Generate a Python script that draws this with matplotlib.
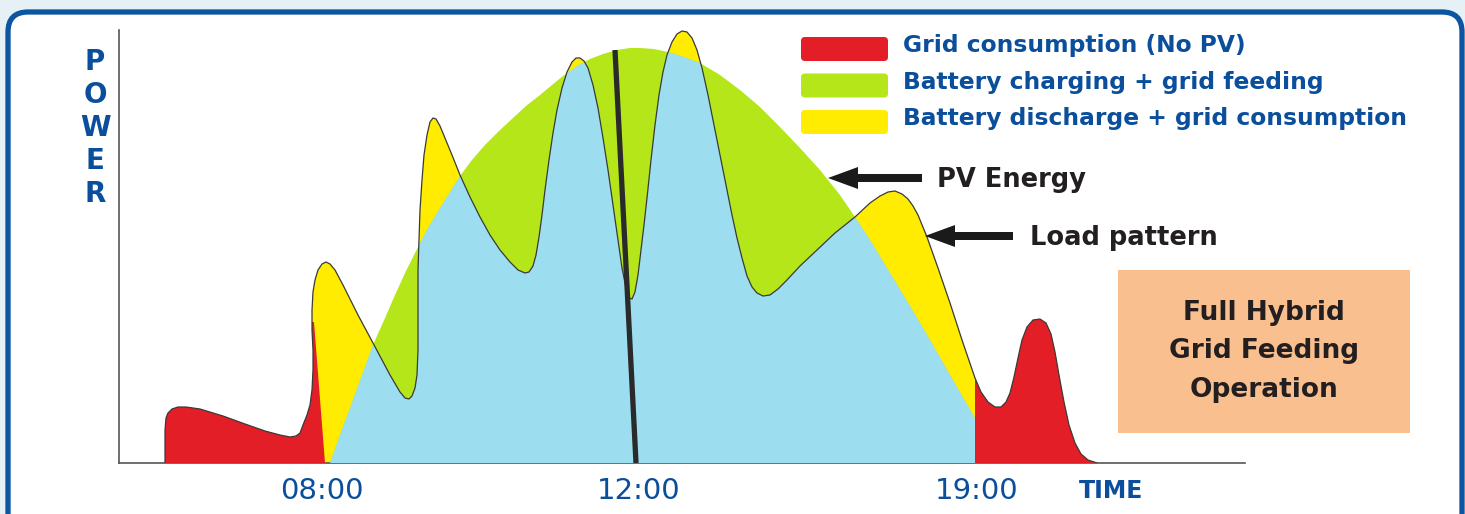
import matplotlib.pyplot as plt
from matplotlib.patches import FancyBboxPatch, Rectangle, Polygon

# chart frame: x = position along the time axis, y = power (arbitrary units)
load_x = [46, 46, 47, 49, 53, 59, 67, 81, 104, 126, 146, 161, 171, 177, 181, 184, 188, 191,
          193, 194, 194, 193, 193, 194, 196, 199, 203, 207, 211, 216, 224, 239, 254, 271,
          281, 286, 290, 293, 296, 298, 299, 299, 299, 299, 300, 301, 303, 305, 308, 311,
          314, 317, 321, 326, 333, 341, 351, 361, 371, 381, 391, 399, 406, 410, 414, 417,
          420, 423, 426, 430, 434, 438, 443, 448, 453, 457, 461, 465, 469, 474, 479, 484,
          489, 494, 499, 503, 507, 510, 513, 516, 519, 522, 525, 528, 532, 536, 540, 544,
          548, 553, 558, 563, 568, 573, 578, 583, 589, 595, 601, 607, 613, 618, 623, 628,
          633, 638, 644, 651, 659, 668, 681, 698, 716, 736, 751, 761, 769, 776, 783, 789,
          794, 799, 808, 819, 831, 843, 856, 862, 869, 876, 882, 887, 891, 895, 899, 903,
          908, 914, 921, 927, 932, 936, 940, 945, 950, 956, 962, 969, 978]
load_y = [0, 33, 45, 50, 54, 56, 56, 54, 47, 39, 32, 28, 26, 27, 30, 38, 48, 58,
          73, 93, 113, 133, 153, 171, 183, 193, 199, 201, 199, 193, 178, 148, 120, 88,
          71, 65, 64, 67, 75, 88, 113, 133, 163, 193, 223, 253, 283, 308, 328, 341,
          345, 344, 337, 325, 308, 288, 266, 246, 228, 213, 201, 193, 190, 191, 197, 208,
          226, 248, 273, 303, 330, 353, 375, 391, 401, 405, 405, 402, 395, 378, 355, 325,
          293, 258, 223, 195, 175, 165, 164, 171, 188, 213, 238, 265, 303, 338, 368, 391,
          408, 421, 429, 432, 431, 425, 413, 395, 368, 338, 308, 278, 248, 225, 205, 187,
          176, 170, 167, 168, 174, 183, 197, 213, 230, 246, 260, 267, 271, 272, 269, 264,
          257, 248, 226, 195, 160, 123, 85, 71, 61, 56, 56, 61, 70, 86, 105, 123,
          136, 143, 144, 140, 129, 111, 88, 61, 38, 20, 9, 3, 0]

pv_x = [211, 221, 231, 243, 254, 266, 276, 287, 298, 309, 321, 331, 341, 353, 366, 380,
        394, 407, 421, 433, 444, 458, 471, 484, 498, 511, 521, 535, 549, 565, 581, 601,
        621, 641, 661, 681, 701, 721, 736, 751, 771, 791, 811, 831, 846, 856, 856]
pv_y = [0, 28, 55, 88, 118, 145, 168, 192, 214, 235, 255, 271, 287, 303, 318, 332,
        345, 357, 368, 378, 387, 397, 404, 409, 413, 415, 415, 414, 411, 406, 400, 388,
        373, 356, 336, 315, 293, 268, 246, 223, 190, 157, 123, 88, 62, 45, 0]

am_red_zone = [(0, 0), (206, 0), (195, 141), (0, 141)]  # grid only, before PV
pv_end = 856                                           # PV stops (19:00)
noon_x = [496, 517]
noon_y = [413, 0]

tick_pos = [203, 520, 858]
tick_labels = ['08:00', '12:00', '19:00']

legend_labels = ['Grid consumption (No PV)', 'Battery charging + grid feeding',
                 'Battery discharge + grid consumption']

RED = '#e31e26'
GREEN = '#b5e61a'
YELLOW = '#ffec00'
SKY = '#9cdeef'
BLUE = '#0b4f9c'
DARK = '#231f20'

fig = plt.figure(figsize=(14.65, 5.14), dpi=100)
fig.patch.set_facecolor('#e6f1f5')

# page frame (pixel coordinates)
bg = fig.add_axes([0, 0, 1, 1], zorder=0)
bg.set_xlim(0, 1465)
bg.set_ylim(514, 0)
bg.axis('off')
bg.add_patch(FancyBboxPatch((8, 12), 1454, 530, boxstyle='round,pad=0,rounding_size=20',
                            fc='white', ec='#0c55a0', lw=3.8))

ax = fig.add_axes([119 / 1465, 51 / 514, 1126 / 1465, 433 / 514], zorder=1)
ax.patch.set_alpha(0)
ax.set_xlim(0, 1126)
ax.set_ylim(0, 433)

# yellow: load above PV, green: PV above load, blue: load covered by PV
ax.fill(load_x, load_y, color=YELLOW, lw=0, zorder=1)
pv_patch = ax.fill(pv_x, pv_y, color=GREEN, lw=0, zorder=2)[0]
blue = ax.fill(load_x, load_y, color=SKY, lw=0, zorder=3)[0]
blue.set_clip_path(pv_patch)

am = Polygon(am_red_zone, closed=True, transform=ax.transData)
red_am = ax.fill(load_x, load_y, color=RED, lw=0, zorder=4)[0]
red_am.set_clip_path(am)
pm = Rectangle((pv_end, 0), 1126 - pv_end, 433, transform=ax.transData)
red_pm = ax.fill(load_x, load_y, color=RED, lw=0, zorder=4)[0]
red_pm.set_clip_path(pm)

ax.plot(load_x, load_y, color='#3a3a3a', lw=0.9, zorder=5)
ax.plot(noon_x, noon_y, color='#2a2a2a', lw=3.8, solid_capstyle='butt', zorder=6)

for s in ['top', 'right']:
    ax.spines[s].set_visible(False)
for s in ['left', 'bottom']:
    ax.spines[s].set_color('#555555')
    ax.spines[s].set_linewidth(1.2)
ax.set_yticks([])
ax.set_xticks(tick_pos)
ax.set_xticklabels(tick_labels, fontsize=21, color=BLUE)
ax.tick_params(axis='x', length=0, pad=10)

# annotations (pixel coordinates)
top = fig.add_axes([0, 0, 1, 1], zorder=2)
top.set_xlim(0, 1465)
top.set_ylim(514, 0)
top.axis('off')
top.patch.set_alpha(0)

for i, ch in enumerate('POWER'):
    top.text(95, 62 + i * 33, ch, fontsize=20, fontweight='bold', color=BLUE,
             ha='center', va='center')
top.text(1111, 491, 'TIME', fontsize=17, fontweight='bold', color=BLUE,
         ha='center', va='center')

for i, (lab, col) in enumerate(zip(legend_labels, [RED, GREEN, YELLOW])):
    yc = 37 + i * 36.5
    top.add_patch(FancyBboxPatch((801, yc), 87, 24, boxstyle='round,pad=0,rounding_size=4',
                                 fc=col, ec='none'))
    top.text(903, yc + 15, lab, fontsize=16.8, fontweight='bold', color=BLUE,
             ha='left', va='baseline')

top.arrow(922, 178, -94, 0, width=8, head_width=22, head_length=30,
          length_includes_head=True, color='#1a1a1a', lw=0)
top.text(937, 187, 'PV Energy', fontsize=18.5, fontweight='bold', color=DARK, va='baseline')
top.arrow(1013, 236, -88, 0, width=8, head_width=22, head_length=30,
          length_includes_head=True, color='#1a1a1a', lw=0)
top.text(1030, 245, 'Load pattern', fontsize=18.5, fontweight='bold', color=DARK,
         va='baseline')

top.add_patch(Rectangle((1118, 270), 292, 163, fc='#f9bf8e', ec='none'))
for i, line in enumerate(['Full Hybrid', 'Grid Feeding', 'Operation']):
    top.text(1264, 320 + i * 38.5, line, fontsize=19, fontweight='bold', color=DARK,
             ha='center', va='baseline')

fig.savefig('out.png', dpi=100)
